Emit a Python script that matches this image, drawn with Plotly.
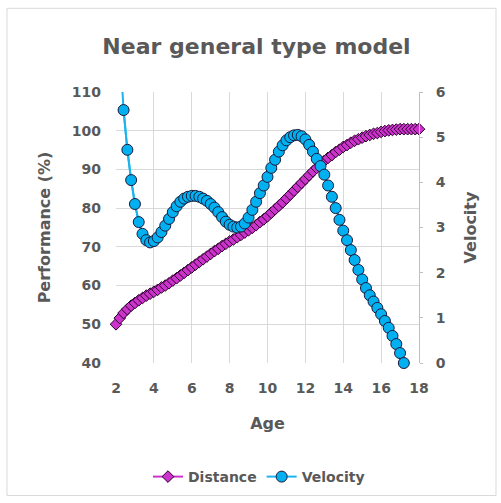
import plotly.graph_objects as go

# Age axis samples (years)
age = [2.0, 2.2, 2.4, 2.6, 2.8, 3.0, 3.2, 3.4, 3.6, 3.8,
       4.0, 4.2, 4.4, 4.6, 4.8, 5.0, 5.2, 5.4, 5.6, 5.8,
       6.0, 6.2, 6.4, 6.6, 6.8, 7.0, 7.2, 7.4, 7.6, 7.8,
       8.0, 8.2, 8.4, 8.6, 8.8, 9.0, 9.2, 9.4, 9.6, 9.8,
       10.0, 10.2, 10.4, 10.6, 10.8, 11.0, 11.2, 11.4, 11.6, 11.8,
       12.0, 12.2, 12.4, 12.6, 12.8, 13.0, 13.2, 13.4, 13.6, 13.8,
       14.0, 14.2, 14.4, 14.6, 14.8, 15.0, 15.2, 15.4, 15.6, 15.8,
       16.0, 16.2, 16.4, 16.6, 16.8, 17.0, 17.2, 17.4, 17.6, 17.8,
       18.0]

# Distance, performance (%)
distance = [50.0, 51.6, 52.9, 53.9, 54.8, 55.5, 56.2, 56.8, 57.4, 57.9,
            58.4, 58.9, 59.5, 60.0, 60.6, 61.3, 61.9, 62.6, 63.3, 64.0,
            64.7, 65.4, 66.1, 66.8, 67.5, 68.2, 68.9, 69.5, 70.2, 70.8,
            71.4, 71.9, 72.5, 73.1, 73.7, 74.3, 74.9, 75.6, 76.4, 77.1,
            77.9, 78.8, 79.7, 80.6, 81.5, 82.5, 83.5, 84.5, 85.5, 86.5,
            87.5, 88.5, 89.5, 90.4, 91.3, 92.2, 93.0, 93.7, 94.5, 95.1,
            95.8, 96.3, 96.9, 97.4, 97.8, 98.2, 98.6, 98.9, 99.2, 99.4,
            99.7, 99.9, 100.1, 100.2, 100.3, 100.4, 100.4, 100.4, 100.4, 100.4,
            100.4]

# Velocity (right axis), defined up to 17.2 years
vel_age = age[:77]
velocity = [9.0, 7.0, 5.60, 4.72, 4.05, 3.52, 3.12, 2.86, 2.72, 2.67,
            2.70, 2.78, 2.90, 3.04, 3.19, 3.34, 3.47, 3.57, 3.64, 3.68,
            3.70, 3.70, 3.68, 3.64, 3.59, 3.52, 3.44, 3.34, 3.23, 3.13,
            3.06, 3.02, 3.00, 3.02, 3.09, 3.22, 3.39, 3.57, 3.76, 3.93,
            4.12, 4.32, 4.50, 4.68, 4.82, 4.93, 5.00, 5.04, 5.05, 5.02,
            4.95, 4.83, 4.68, 4.52, 4.36, 4.17, 3.93, 3.68, 3.43, 3.17,
            2.93, 2.72, 2.50, 2.28, 2.06, 1.85, 1.66, 1.50, 1.36, 1.22,
            1.08, 0.93, 0.78, 0.60, 0.42, 0.22, 0.00]

x_ticks = [2, 4, 6, 8, 10, 12, 14, 16, 18]
y_ticks = [40, 50, 60, 70, 80, 90, 100, 110]
y2_ticks = [0, 1, 2, 3, 4, 5, 6]

GRAY = "#595959"
GRID = "#d9d9d9"
MAGENTA = "#cc33cc"
CYAN = "#00b0f0"
FONT = "DejaVu Sans"

Y2_MIN, Y2_MAX = 0, 6
vis = [(a, v) for a, v in zip(vel_age, velocity) if Y2_MIN <= v <= Y2_MAX]

fig = go.Figure()

fig.add_trace(go.Scatter(
    x=age, y=distance, name="Distance", mode="lines+markers",
    line=dict(color=MAGENTA, width=2),
    marker=dict(symbol="diamond", size=9, color=MAGENTA,
                line=dict(color="#2b002b", width=1)),
    cliponaxis=False,
))

# full velocity line (clipped by the plot area where it runs off the scale)
fig.add_trace(go.Scatter(
    x=vel_age, y=velocity, mode="lines", yaxis="y2", showlegend=False,
    line=dict(color="#1cb4ee", width=2), hoverinfo="skip",
))
fig.add_trace(go.Scatter(
    x=[p[0] for p in vis], y=[p[1] for p in vis], name="Velocity",
    mode="lines+markers", yaxis="y2",
    line=dict(color="#1cb4ee", width=2),
    marker=dict(symbol="circle", size=11, color=CYAN,
                line=dict(color="#1a1a3a", width=1)),
    cliponaxis=False,
))

L, R, T, B = 116, 82, 92, 139
PW, PH = 501 - L - R, 503 - T - B

def px(xp):
    return (xp - L) / PW

def py(yp):
    return (503 - B - yp) / PH

tickfont = dict(family=FONT, size=14, color=GRAY, weight="bold")
titlefont = dict(family=FONT, size=16, color=GRAY, weight="bold")

fig.update_layout(
    width=501, height=503,
    margin=dict(l=L, r=R, t=T, b=B),
    paper_bgcolor="white", plot_bgcolor="white",
    font=dict(family=FONT, color=GRAY),
    title=dict(text="Near general type model",
               font=dict(family=FONT, size=22, color=GRAY, weight="bold"),
               x=256.5 / 501, xanchor="center", xref="container",
               y=(503 - 46) / 503, yanchor="middle", yref="container"),
    xaxis=dict(range=[2, 18], tickvals=x_ticks, showgrid=True, gridcolor=GRID,
               gridwidth=1, zeroline=False, showline=False,
               tickfont=tickfont, ticklabelstandoff=15,
               title=dict(text="Age", font=titlefont, standoff=22)),
    yaxis=dict(range=[40, 110], tickvals=y_ticks, showgrid=True, gridcolor=GRID,
               gridwidth=1, zeroline=False, showline=False,
               tickfont=tickfont, ticklabelstandoff=14,
               title=dict(text="Performance (%)", font=titlefont, standoff=17)),
    yaxis2=dict(range=[Y2_MIN, Y2_MAX], tickvals=y2_ticks, overlaying="y", side="right",
                showgrid=False, zeroline=False, showline=True, linecolor="#bfbfbf",
                linewidth=1, ticks="outside", ticklen=3, tickcolor="#bfbfbf",
                tickfont=tickfont, ticklabelstandoff=10,
                title=dict(text="Velocity", font=titlefont, standoff=20)),
    legend=dict(orientation="h", x=px(259), xanchor="center", y=py(477),
                yanchor="middle",
                font=dict(family=FONT, size=14, color=GRAY, weight="bold"),
                bgcolor="rgba(0,0,0,0)", itemwidth=30),
    shapes=[dict(type="rect", xref="paper", yref="paper",
                 x0=px(7), x1=px(496), y0=py(497), y1=py(8),
                 line=dict(color=GRID, width=1), layer="below")],
    showlegend=True,
)

fig.write_html("out.html")
